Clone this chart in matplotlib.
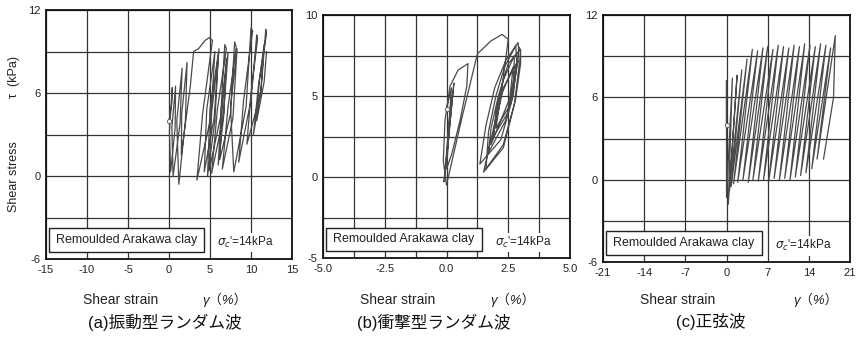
import numpy as np
import matplotlib
matplotlib.use("Agg")
import matplotlib.pyplot as plt
from matplotlib.patches import Rectangle

plt.rcParams['font.family'] = ['Liberation Sans', 'Noto Sans CJK JP', 'DejaVu Sans']

# ── data (strain %, stress kPa) ──────────────────────────────────────────────
# (a) vibration-type random wave: path vertices in loading order
a_strain = [0.0, 0.35, 0.4, 0.05, 0.2,
            0.75, 0.8, 0.35, 0.5,
            1.35, 1.6, 0.95, 1.2,
            2.0, 2.2, 1.55, 1.5,
            2.6, 3.0, 3.6, 4.4, 4.9, 5.3, 4.1, 3.4,
            5.1, 5.6, 4.6, 4.3,
            5.5, 6.1, 5.0, 4.7,
            5.6, 6.0, 5.2, 4.9,
            6.3, 6.8, 7.0, 5.9, 5.2,
            6.6, 7.2, 6.4, 6.0,
            6.7, 7.0, 6.5, 6.2,
            7.5, 8.0, 8.2, 7.2, 6.5,
            7.8, 8.3, 7.5, 7.9,
            9.4, 10.0, 10.2, 9.1, 8.5,
            10.0, 10.7, 10.8, 10.0, 9.5,
            11.2, 11.8, 11.9, 10.9, 10.3,
            11.2, 11.6, 11.0, 10.7,
            11.6, 11.9]
a_stress = [4.0, 5.3, 6.4, 3.2, 0.3,
            3.5, 6.5, 3.5, 0.0,
            3.8, 7.8, 4.0, -0.6,
            4.0, 8.2, 4.5, 1.5,
            6.5, 9.0, 9.2, 9.8, 10.0, 9.8, 4.5, -0.3,
            4.2, 9.0, 4.8, 0.3,
            4.2, 9.2, 4.8, 0.0,
            4.0, 8.7, 4.6, 0.4,
            4.3, 9.5, 9.2, 4.8, 0.2,
            4.2, 8.9, 5.0, 0.8,
            4.5, 8.5, 5.0, 1.2,
            4.5, 9.7, 9.3, 5.0, 0.5,
            4.2, 9.2, 5.0, 0.3,
            5.0, 10.7, 10.5, 5.5, 1.0,
            5.5, 10.2, 9.9, 6.0, 2.3,
            6.0, 10.6, 10.3, 6.5, 3.0,
            6.2, 9.5, 6.8, 4.0,
            6.8, 9.0]

# (b) impact-type random wave
b_strain = [0.0, 0.2, 0.0, 0.3, -0.1, 0.2, 0.0,
            0.21, 0.55, 0.82, 0.87, 0.47, 0.14, -0.06, -0.13, 0.0,
            0.6, 1.25, 1.8, 2.25, 2.5, 2.2, 1.5,
            2.3, 2.75, 2.95, 2.9, 2.4, 1.95, 1.6, 1.35,
            2.2, 2.7, 2.85, 2.8, 2.35, 2.0, 1.7, 1.6,
            2.3, 2.8, 3.0, 3.0, 2.5, 2.1, 1.8, 1.7,
            2.4, 2.7, 2.75, 2.3, 2.0, 1.9,
            2.5, 2.7, 2.2, 2.0,
            2.6, 2.9, 2.3, 1.8,
            2.6, 2.95]
b_stress = [4.2, 5.5, 1.0, 5.8, -0.3, 5.0, 0.5,
            1.4, 3.5, 5.6, 7.0, 6.6, 5.6, 3.5, 1.0, -0.5,
            3.5, 7.6, 8.4, 8.8, 8.5, 5.0, 0.3,
            1.8, 4.5, 7.0, 8.3, 7.2, 5.5, 3.2, 0.8,
            2.3, 5.0, 7.0, 8.1, 6.8, 5.0, 2.8, 0.5,
            2.0, 4.8, 7.0, 7.9, 7.0, 5.0, 3.0, 1.5,
            3.5, 5.5, 7.5, 6.0, 4.0, 2.5,
            4.0, 6.8, 5.0, 3.0,
            4.5, 7.2, 5.5, 2.0,
            5.0, 8.0]

# (c) sine wave: peak of each cycle, then the trough that follows it
c_start = (0.0, 4.0)
c_peak_strain = [0.0, 1.0, 1.8, 2.6, 3.5, 4.4, 5.3, 6.2, 7.0, 7.9, 8.8,
                 9.7, 10.6, 11.5, 12.4, 13.3, 14.2, 15.1, 16.0, 16.9, 17.7, 18.5]
c_peak_stress = [7.2, 7.4, 7.6, 8.0, 8.8, 9.5, 9.4, 9.6, 9.7, 9.5, 9.8,
                 9.7, 9.6, 9.8, 9.7, 9.9, 9.8, 9.7, 9.9, 9.8, 9.6, 10.5]
c_trough_strain = [0.0, 0.3, 0.5, 0.8, 1.2, 1.9, 2.8, 3.7, 4.5, 5.4, 6.3,
                   7.2, 8.1, 9.0, 9.9, 10.8, 11.7, 12.6, 13.5, 14.5, 15.4]
c_trough_stress = [-1.3, -1.8, -0.8, -0.5, -0.3, -0.2, 0.0, -0.2, 0.0, -0.1,
                   0.0, 0.0, 0.1, 0.0, 0.1, 0.0, 0.2, 0.3, 0.5, 0.8, 1.5]
c_end_strain = [18.2, 16.5]
c_end_stress = [6.0, 1.5]

# interleave peaks and troughs into one path
c_strain = [c_start[0]]
c_stress = [c_start[1]]
for i in range(len(c_trough_strain)):
    c_strain += [c_peak_strain[i], c_trough_strain[i]]
    c_stress += [c_peak_stress[i], c_trough_stress[i]]
c_strain += [c_peak_strain[-1]] + c_end_strain
c_stress += [c_peak_stress[-1]] + c_end_stress

panels = [
    dict(x=a_strain, y=a_stress, xlim=(-15, 15), ylim=(-6, 12),
         xgrid=np.arange(-15, 16, 5), xlab=[-15, -10, -5, 0, 5, 10, 15],
         ygrid=np.arange(-6, 13, 3), ylab=[-6, 0, 6, 12],
         xfmt="{:g}", pos=[46, 259, 246, 249], gam=156,
         cap="(a)振動型ランダム波", capx=165),
    dict(x=b_strain, y=b_stress, xlim=(-5, 5), ylim=(-5, 10),
         xgrid=np.arange(-5, 5.01, 1.25), xlab=[-5, -2.5, 0, 2.5, 5],
         ygrid=np.arange(-5, 10.01, 2.5), ylab=[-5, 0, 5, 10],
         xfmt="{:.1f}", pos=[323, 258, 247, 243], gam=167,
         cap="(b)衝撃型ランダム波", capx=434),
    dict(x=c_strain, y=c_stress, xlim=(-21, 21), ylim=(-6, 12),
         xgrid=np.arange(-21, 22, 7), xlab=[-21, -14, -7, 0, 7, 14, 21],
         ygrid=np.arange(-6, 13, 3), ylab=[-6, 0, 6, 12],
         xfmt="{:g}", pos=[603, 262, 247, 247], gam=190,
         cap="(c)正弦波", capx=711),
]

W, H = 861, 338
fig = plt.figure(figsize=(W / 100, H / 100), dpi=100)

for p in panels:
    l, b, w, h = p["pos"]
    ax = fig.add_axes([l / W, 1 - b / H, w / W, h / H])
    ax.set_xlim(*p["xlim"])
    ax.set_ylim(*p["ylim"])
    ax.set_xticks(p["xgrid"])
    ax.set_xticklabels([p["xfmt"].format(v) if any(np.isclose(v, p["xlab"])) else ""
                        for v in p["xgrid"]])
    ax.set_yticks(p["ygrid"])
    ax.set_yticklabels([f"{v:g}" if any(np.isclose(v, p["ylab"])) else ""
                        for v in p["ygrid"]])
    ax.tick_params(length=0, labelsize=8, pad=4, colors="#222")
    ax.grid(True, color="#333", lw=0.9, zorder=0)
    for s in ax.spines.values():
        s.set_linewidth(1.3)
        s.set_color("#111")

    ax.plot(p["x"], p["y"], color="#4a4a4a", lw=0.9, zorder=2)
    ax.plot(p["x"][0], p["y"][0], "o", ms=3, mfc="white", mec="#666", mew=0.7, zorder=3)

    ax.add_patch(Rectangle((0.012, 0.03), 0.63, 0.095, transform=ax.transAxes,
                           facecolor="white", edgecolor="#222", lw=1.0, zorder=4))
    ax.text(0.327, 0.077, "Remoulded Arakawa clay", transform=ax.transAxes,
            ha="center", va="center", fontsize=9, color="#222", zorder=5)
    ax.text(0.81, 0.065, r"$\sigma_c$'=14kPa", transform=ax.transAxes,
            ha="center", va="center", fontsize=8.5, color="#222", zorder=5,
            bbox=dict(facecolor="white", edgecolor="none", pad=1.5))

    fig.text((l + 37) / W, 1 - 300 / H, "Shear strain", ha="left", va="center",
             fontsize=10, color="#222")
    fig.text((l + p["gam"]) / W, 1 - 300 / H, "γ（%）", ha="left", va="center",
             fontsize=9.5, color="#222", style="italic")
    fig.text(p["capx"] / W, 1 - 322 / H, p["cap"], ha="center", va="center",
             fontsize=12, color="#111")

fig.text(14 / W, 1 - 177 / H, "Shear stress", rotation=90,
         ha="center", va="center", fontsize=9, color="#222")
fig.text(14 / W, 1 - 77 / H, "τ  (kPa)", rotation=90,
         ha="center", va="center", fontsize=9, color="#222")

fig.savefig("out.png", dpi=100, facecolor="white")
